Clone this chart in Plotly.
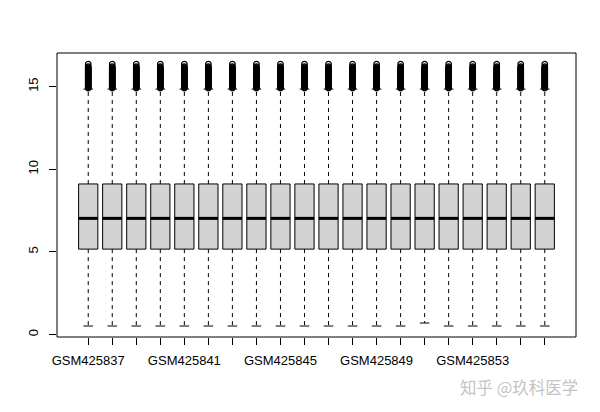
import plotly.graph_objects as go

samples = ["GSM425837", "GSM425838", "GSM425839", "GSM425840", "GSM425841",
           "GSM425842", "GSM425843", "GSM425844", "GSM425845", "GSM425846",
           "GSM425847", "GSM425848", "GSM425849", "GSM425850", "GSM425851",
           "GSM425852", "GSM425853", "GSM425854", "GSM425855", "GSM425856"]
q1 = [5.17, 5.17, 5.17, 5.17, 5.17, 5.17, 5.17, 5.17, 5.17, 5.17,
      5.17, 5.17, 5.17, 5.17, 5.17, 5.17, 5.17, 5.17, 5.17, 5.17]
median = [7.03, 7.03, 7.03, 7.03, 7.03, 7.03, 7.03, 7.03, 7.03, 7.03,
          7.03, 7.03, 7.03, 7.03, 7.03, 7.03, 7.03, 7.03, 7.03, 7.03]
q3 = [9.11, 9.11, 9.11, 9.11, 9.11, 9.11, 9.11, 9.11, 9.11, 9.11,
      9.11, 9.11, 9.11, 9.11, 9.11, 9.11, 9.11, 9.11, 9.11, 9.11]
lower_whisker = [0.52, 0.52, 0.52, 0.52, 0.52, 0.52, 0.52, 0.52, 0.52, 0.52,
                 0.52, 0.52, 0.52, 0.52, 0.70, 0.52, 0.52, 0.52, 0.52, 0.52]
upper_whisker = [14.85, 14.85, 14.85, 14.85, 14.85, 14.85, 14.85, 14.85, 14.85, 14.85,
                 14.85, 14.85, 14.85, 14.85, 14.85, 14.85, 14.85, 14.85, 14.85, 14.85]
outliers = [14.9, 14.95, 15.0, 15.05, 15.1, 15.15, 15.2, 15.25, 15.3, 15.35,
            15.4, 15.45, 15.5, 15.55, 15.6, 15.65, 15.7, 15.75, 15.8, 15.85,
            15.9, 15.95, 16.0, 16.05, 16.1, 16.15, 16.2, 16.36]
y_ticks = [0, 5, 10, 15]

positions = list(range(1, len(samples) + 1))
tick_text = [s if (i % 4 == 0) else "" for i, s in enumerate(samples)]

BOX_W = 0.8
CAP_W = 0.4

fig = go.Figure()

# boxes (no whiskers; whiskers drawn dashed separately)
for x, a, m, b in zip(positions, q1, median, q3):
    fig.add_trace(go.Box(
        x=[x], q1=[a], median=[m], q3=[b], lowerfence=[a], upperfence=[b],
        width=BOX_W, fillcolor="#d3d3d3", line=dict(color="black", width=1),
        whiskerwidth=0, boxpoints=False, hoverinfo="skip", showlegend=False))

# dashed whiskers
wx, wy = [], []
for x, a, b, lo, hi in zip(positions, q1, q3, lower_whisker, upper_whisker):
    wx += [x, x, None, x, x, None]
    wy += [b, hi, None, a, lo, None]
fig.add_trace(go.Scatter(x=wx, y=wy, mode="lines",
                         line=dict(color="black", width=1, dash="4px,4px"),
                         hoverinfo="skip", showlegend=False))

# staples
cx, cy = [], []
for x, lo, hi in zip(positions, lower_whisker, upper_whisker):
    cx += [x - CAP_W / 2, x + CAP_W / 2, None, x - CAP_W / 2, x + CAP_W / 2, None]
    cy += [hi, hi, None, lo, lo, None]
fig.add_trace(go.Scatter(x=cx, y=cy, mode="lines",
                         line=dict(color="black", width=1),
                         hoverinfo="skip", showlegend=False))

# thick medians
mx, my = [], []
for x, m in zip(positions, median):
    mx += [x - BOX_W / 2, x + BOX_W / 2, None]
    my += [m, m, None]
fig.add_trace(go.Scatter(x=mx, y=my, mode="lines",
                         line=dict(color="black", width=3),
                         hoverinfo="skip", showlegend=False))

# outliers
ox, oy = [], []
for x in positions:
    ox += [x] * len(outliers)
    oy += outliers
fig.add_trace(go.Scatter(x=ox, y=oy, mode="markers",
                         marker=dict(symbol="circle-open", size=5.5,
                                     line=dict(color="black", width=1.3), color="black"),
                         hoverinfo="skip", showlegend=False))

# page body has an 8px default margin, so the figure is sized to fit the window
fig.update_layout(
    width=592, height=404,
    margin=dict(l=49, r=24, t=45, b=75),
    paper_bgcolor="white", plot_bgcolor="white",
    font=dict(family="Liberation Sans, Arial, sans-serif", size=13, color="black"),
    showlegend=False,
    xaxis=dict(range=[-0.3, 21.3], tickmode="array", tickvals=positions,
               ticktext=tick_text, ticks="outside", ticklen=7, tickcolor="black",
               tickwidth=1, showgrid=False, zeroline=False, showline=False,
               tickangle=0, ticklabelstandoff=4, automargin=False),
    yaxis=dict(range=[-0.145, 17.03], tickmode="array", tickvals=y_ticks,
               ticks="outside", ticklen=7, tickcolor="black", tickwidth=1,
               showgrid=False, zeroline=False, showline=False, tickangle=-90,
               ticklabelstandoff=6, automargin=False),
    shapes=[dict(type="rect", xref="paper", yref="paper", x0=0, x1=1, y0=0, y1=1,
                 line=dict(color="black", width=1), fillcolor="rgba(0,0,0,0)")],
    annotations=[dict(text="知乎 @玖科医学", xref="paper", yref="paper",
                      x=0.89, y=-0.175, xanchor="center", yanchor="middle",
                      showarrow=False,
                      font=dict(family="Noto Sans CJK SC", size=16.5, color="#c4c4c4"))],
)

fig.write_html("out.html")
